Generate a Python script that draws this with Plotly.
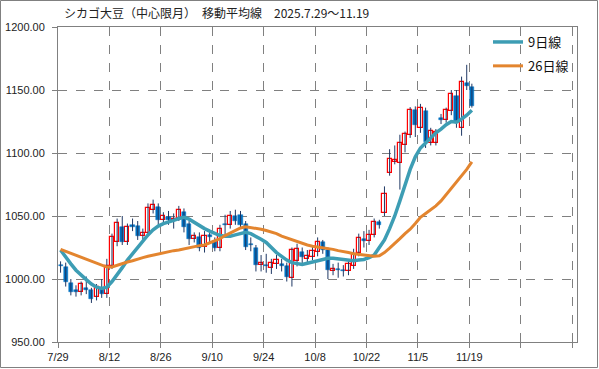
import plotly.graph_objects as go

dates = ["7/29","7/30","7/31","8/1","8/4","8/5","8/6","8/7","8/8","8/11",
         "8/12","8/13","8/14","8/15","8/18","8/19","8/20","8/21","8/22","8/25",
         "8/26","8/27","8/28","8/29","9/2","9/3","9/4","9/5","9/8","9/9",
         "9/10","9/11","9/12","9/15","9/16","9/17","9/18","9/19","9/22","9/23",
         "9/24","9/25","9/26","9/29","9/30","10/1","10/2","10/3","10/6","10/7",
         "10/8","10/9","10/10","10/13","10/14","10/15","10/16","10/17","10/20","10/21",
         "10/22","10/23","10/24","10/27","10/28","10/29","10/30","10/31","11/3","11/4",
         "11/5","11/6","11/7","11/10","11/11","11/12","11/13","11/14","11/17","11/18",
         "11/19"]

open_ = [1011.5,1009.5,997,991,990,993,991,986,993,988,
         1010,1029,1041.5,1029,1042.5,1042,1034,1036.5,1055,1057,
         1047,1049,1046,1048.5,1053,1044,1032,1033.5,1025.3,1035,
         1030,1025,1043.5,1043,1050,1051,1044,1028,1025,1011.5,
         1011.5,1009,1012,1012,1010,1001,1014,1021.3,1015.5,1017.3,
         1021.6,1029.5,1023.4,1006.3,1008,1007.5,1006.3,1010,1020.8,1031.5,
         1030,1035.3,1045,1052.5,1084,1093,1092,1106.6,1114.5,1134,
         1119.8,1133,1108,1108,1127.7,1126.4,1133,1145.4,1119.8,1155.4,
         1152.3]
high = [1014,1013,1000,995,998,1002,993,996,1000,1016,
        1036,1048,1050,1044,1048,1046,1040,1060,1063,1060,
        1053,1054,1052,1058,1056,1046,1037,1037,1038,1039,
        1033,1043,1051,1054,1055,1054,1046,1033,1027,1019,
        1020,1016,1019,1016,1013,1025,1028,1025,1023,1026,
        1033,1031,1025,1012,1013,1011,1014,1024,1036,1038,
        1039,1048,1047,1073.5,1103,1106,1114.5,1117,1136.4,1137,
        1139,1136,1120,1119,1131,1136,1150,1150,1160.6,1170,
        1155]
low = [1005,994,987,986,987,988,981,983,985,985,
       1008,1026,1027,1027,1038,1031,1031,1034,1052,1043,
       1045,1043,1040,1046,1037,1027,1029,1022,1021,1029,
       1022,1022,1034,1040,1043,1040,1023,1022,1006,1006,
       1005,1004,1008,1006,998,994,1010,1012,1012,1015,
       1018,1020,1000,1003,1001,1002,1003,1008,1018,1025,
       1027,1033,1040,1050,1082,1091,1071,1100.5,1112,1112.7,
       1116,1104,1106,1106,1123,1124,1130,1120,1113.7,1150,
       1136]
close = [1010,998,990,989.5,996,991.5,984.5,994,988,1010,
         1033,1044.5,1029,1041,1041.5,1034,1036.5,1056.5,1059,1047,
         1050,1047,1048,1055,1041.5,1032,1034,1025,1034.5,1033,
         1025,1040,1042.5,1050,1046,1043,1025.5,1027,1011,1012.5,
         1010,1013,1014.7,1010,1001.5,1023,1024,1017.7,1018,1022.6,
         1029.5,1023.4,1006.8,1008,1007,1006.5,1011.6,1020,1032.7,1030.5,
         1035,1045.3,1042.5,1067.5,1095.5,1094.7,1108,1115,1134,1122.4,
         1135.6,1109,1117.7,1117,1126.4,1134,1147,1125,1156.7,1153.5,
         1137]

ma9 = [1023,1017,1012,1007,1003,999.5,996,993.5,992.5,993.5,
       998,1003,1009,1015,1020,1026,1031,1035,1039,1042,
       1044,1045,1046.5,1048,1049,1047.5,1045,1042,1040,1038,
       1036,1034.5,1034,1034,1035,1036,1037,1036,1034,1031.5,
       1029,1025,1021,1018,1015,1013,1012,1011.5,1012.5,1013.5,
       1015,1016,1016.5,1016.5,1016,1015,1014.5,1014.5,1015,1015.5,
       1017,1019,1025,1031,1040,1050,1062,1075,1087,1097,
       1104,1108,1112,1116,1119,1122.5,1125,1124.5,1127,1130,
       1134]
ma26 = [1023.5,1022,1020.5,1019,1017.5,1016,1014.5,1013,1011,1009.5,
        1009.5,1011,1012.5,1013.5,1014.5,1016,1017,1018,1019,1020,
        1020.5,1021.5,1022.5,1023,1024,1024.5,1025.5,1026.5,1027,1028.5,
        1030,1032,1034.5,1036.5,1038.5,1040.5,1041.5,1041,1040.5,1039.5,
        1038.5,1037.5,1036,1034,1032.5,1031,1029.5,1028,1027,1026,
        1025.5,1025,1024,1023.5,1022.5,1022,1021,1020,1019.5,1019,
        1018,1018,1018.5,1021,1024.5,1028,1032,1036,1039.5,1044,
        1049,1052,1055,1058,1062,1067,1072.5,1077.5,1082,1087,
        1093]

y_ticks = [950, 1000, 1050, 1100, 1150, 1200]
tick_step = 10
n_slots = 101
title_text = "シカゴ大豆（中心限月）　移動平均線　2025.7.29～11.19"

n = len(dates)
xpos = [i + 0.5 for i in range(n)]

wx, wy = [], []
for i in range(n):
    wx += [xpos[i], xpos[i], None]
    wy += [low[i], high[i], None]

up_x, up_b, up_h, dn_x, dn_b, dn_h = [], [], [], [], [], []
for i in range(n):
    h = max(abs(close[i] - open_[i]), 0.9)
    if close[i] >= open_[i]:
        up_x.append(xpos[i]); up_b.append(open_[i]); up_h.append(h)
    else:
        dn_x.append(xpos[i]); dn_b.append(close[i]); dn_h.append(h)

fig = go.Figure()
fig.add_trace(go.Scatter(x=wx, y=wy, mode="lines", line=dict(color="#1f3864", width=1),
                         showlegend=False, hoverinfo="skip"))
fig.add_trace(go.Bar(x=up_x, y=up_h, base=up_b, width=0.8,
                     marker=dict(color="white", line=dict(color="#ff0000", width=1.2)),
                     showlegend=False))
fig.add_trace(go.Bar(x=dn_x, y=dn_h, base=dn_b, width=0.8,
                     marker=dict(color="#0070c0", line=dict(color="#0070c0", width=0.5)),
                     showlegend=False))
fig.add_trace(go.Scatter(x=xpos, y=ma9, mode="lines", name="9日線",
                         line=dict(color="#3d9db4", width=3.5), legendgroup="a"))
fig.add_trace(go.Scatter(x=xpos, y=ma26, mode="lines", name="26日線",
                         line=dict(color="#e3852f", width=3), legendgroup="b"))

tickvals = list(range(0, n_slots, tick_step))
ticktext = [dates[k] if k < n else "" for k in tickvals]

L, R, T, B = 58, 22, 27, 27
W, H = 599, 369
pw, ph = W - L - R, H - T - B

axis_common = dict(showgrid=True, gridcolor="#808080", griddash="dash", gridwidth=1,
                   showline=True, linecolor="#808080", linewidth=1, mirror=True,
                   ticks="outside", ticklen=5, tickcolor="#808080", zeroline=False,
                   automargin=False,
                   tickfont=dict(family="Liberation Sans", size=11, color="#222"))

fig.update_layout(
    width=W, height=H,
    margin=dict(l=L, r=R, t=T, b=B, pad=0, autoexpand=False),
    paper_bgcolor="white", plot_bgcolor="white",
    barmode="overlay", bargap=0,
    font=dict(family="Noto Sans CJK JP, Liberation Sans", size=11, color="#222"),
    showlegend=True,
    legend=dict(x=(488 - L) / pw, y=(H - B - 27) / ph, xanchor="left", yanchor="top",
                bgcolor="rgba(0,0,0,0)", font=dict(size=13, family="Noto Sans CJK JP", color="#111"),
                tracegroupgap=4, itemwidth=30),
    xaxis=dict(range=[0, n_slots - 0.05], tickmode="array", tickvals=tickvals, ticktext=ticktext,
               **axis_common),
    yaxis=dict(range=[950, 1200], tickmode="array", tickvals=y_ticks,
               ticktext=[f"{v:.2f}" for v in y_ticks], ticklabelstandoff=5, **axis_common),
    annotations=[dict(text=title_text, xref="paper", yref="paper",
                      x=(62 - L) / pw, y=(H - B - 13) / ph, xanchor="left", yanchor="middle",
                      showarrow=False, font=dict(size=12, family="Noto Sans CJK JP", color="#222"))],
    shapes=[dict(type="rect", xref="paper", yref="paper",
                 x0=(0.5 - L) / pw, x1=(W - 1.5 - L) / pw,
                 y0=(H - B - (H - 1.5)) / ph, y1=(H - B - 0.5) / ph,
                 line=dict(color="#808080", width=1), fillcolor="rgba(0,0,0,0)", layer="below")],
)

fig.write_html("out.html", config={"displayModeBar": False},
               post_script="document.body.style.margin='0';document.body.style.overflow='hidden';")
